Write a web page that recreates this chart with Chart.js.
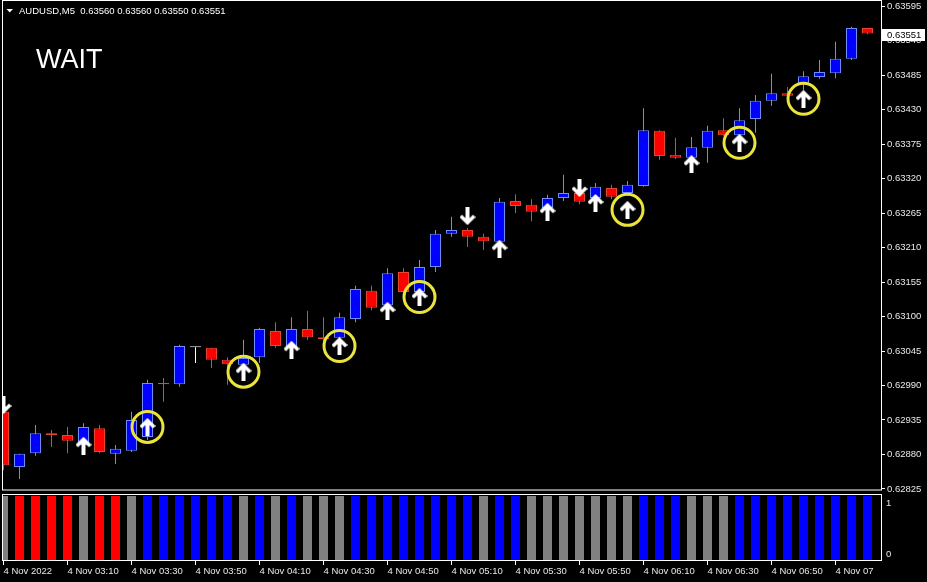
<!DOCTYPE html>
<html>
<head>
<meta charset="utf-8">
<script src="https://cdn.jsdelivr.net/npm/chart.js@4.4.1/dist/chart.umd.min.js"></script>
<style>
html,body{margin:0;padding:0;background:#000;overflow:hidden}
canvas{display:block}
</style>
</head>
<body>
<canvas id="c" width="927" height="582"></canvas>
<script>
// ---------- data ----------
const symbol = 'AUDUSD';
const timeframe = 'M5';
const signalText = 'WAIT';

const times = ['02:50','02:55','03:00','03:05','03:10','03:15','03:20','03:25','03:30','03:35',
  '03:40','03:45','03:50','03:55','04:00','04:05','04:10','04:15','04:20','04:25',
  '04:30','04:35','04:40','04:45','04:50','04:55','05:00','05:05','05:10','05:15',
  '05:20','05:25','05:30','05:35','05:40','05:45','05:50','05:55','06:00','06:05',
  '06:10','06:15','06:20','06:25','06:30','06:35','06:40','06:45','06:50','06:55',
  '07:00','07:05','07:10','07:15','07:20'];

const opens = [0.62948,0.62860,0.62882,0.62914,0.62911,0.62895,0.62922,0.62881,0.62886,0.62908,
  0.62994,0.62992,0.63051,0.63050,0.63031,0.63023,0.63035,0.63077,0.63051,0.63080,
  0.63067,0.63066,0.63096,0.63141,0.63118,0.63171,0.63139,0.63179,0.63232,0.63238,
  0.63227,0.63219,0.63284,0.63278,0.63273,0.63289,0.63297,0.63289,0.63305,0.63297,
  0.63308,0.63396,0.63358,0.63353,0.63369,0.63397,0.63389,0.63415,0.63444,0.63456,
  0.63471,0.63482,0.63488,0.63511,0.63560];
const highs = [0.62954,0.62881,0.62927,0.62919,0.62924,0.62930,0.62927,0.62895,0.62948,0.62999,
  0.63002,0.63055,0.63051,0.63050,0.63035,0.63063,0.63082,0.63091,0.63099,0.63109,
  0.63099,0.63106,0.63149,0.63149,0.63177,0.63177,0.63190,0.63238,0.63259,0.63241,
  0.63232,0.63289,0.63295,0.63287,0.63294,0.63326,0.63302,0.63313,0.63310,0.63316,
  0.63432,0.63397,0.63385,0.63386,0.63404,0.63416,0.63432,0.63453,0.63487,0.63466,
  0.63491,0.63509,0.63538,0.63562,0.63560];
const lows = [0.62855,0.62841,0.62878,0.62892,0.62882,0.62887,0.62882,0.62865,0.62884,0.62903,
  0.62964,0.62988,0.63026,0.63018,0.62991,0.63015,0.63026,0.63050,0.63047,0.63063,
  0.63053,0.63055,0.63091,0.63110,0.63115,0.63138,0.63136,0.63171,0.63227,0.63211,
  0.63206,0.63216,0.63265,0.63252,0.63270,0.63284,0.63279,0.63286,0.63287,0.63292,
  0.63307,0.63350,0.63351,0.63350,0.63345,0.63388,0.63386,0.63393,0.63436,0.63450,
  0.63461,0.63479,0.63480,0.63509,0.63550];
const closes = [0.62863,0.62881,0.62914,0.62911,0.62902,0.62924,0.62884,0.62889,0.62935,0.62994,
  0.62992,0.63053,0.63051,0.63031,0.63024,0.63034,0.63080,0.63053,0.63080,0.63067,
  0.63064,0.63099,0.63144,0.63114,0.63169,0.63139,0.63179,0.63232,0.63238,0.63227,
  0.63220,0.63283,0.63276,0.63267,0.63289,0.63297,0.63283,0.63307,0.63291,0.63310,
  0.63397,0.63356,0.63353,0.63370,0.63396,0.63389,0.63413,0.63444,0.63456,0.63452,
  0.63483,0.63490,0.63511,0.63560,0.63551];

// signal arrows (bar index + price level)
const upSignalBars   = [5, 9, 15, 18, 21, 24, 26, 31, 34, 37, 39, 43, 46, 50];
const upSignalPrices = [0.62894,0.62924,0.63012,0.63047,0.63053,0.63109,0.63131,0.63208,0.63267,0.63281,0.63270,0.63343,0.63377,0.63447];
const downSignalBars   = [0, 29, 36];
const downSignalPrices = [0.62959, 0.63260, 0.63305];
const confirmedBars = [9, 15, 21, 26, 39, 46, 50];

// lower indicator histogram
const histState = ['flat','sell','sell','sell','sell','flat','sell','sell','flat','buy',
  'buy','buy','buy','buy','buy','flat','buy','flat','buy','flat',
  'flat','flat','buy','buy','buy','buy','buy','buy','buy','buy',
  'flat','buy','buy','flat','flat','flat','flat','flat','flat','flat',
  'buy','buy','buy','flat','flat','flat','buy','buy','buy','buy',
  'buy','buy','buy','buy','buy'];
const histValue = [1,1,1,1,1,1,1,1,1,1, 1,1,1,1,1,1,1,1,1,1, 1,1,1,1,1,1,1,1,1,1,
  1,1,1,1,1,1,1,1,1,1, 1,1,1,1,1,1,1,1,1,1, 1,1,1,1,1];
const histLevels = [1, 0];

// axis ticks
const priceTicks = [0.62825,0.62880,0.62935,0.62990,0.63045,0.63100,0.63155,0.63210,
  0.63265,0.63320,0.63375,0.63430,0.63485,0.63540,0.63595];
const xTickBars = [0,4,8,12,16,20,24,28,32,36,40,44,48,52];
const xTickLabels = ['4 Nov 2022','4 Nov 03:10','4 Nov 03:30','4 Nov 03:50','4 Nov 04:10',
  '4 Nov 04:30','4 Nov 04:50','4 Nov 05:10','4 Nov 05:30','4 Nov 05:50','4 Nov 06:10',
  '4 Nov 06:30','4 Nov 06:50','4 Nov 07'];

// ---------- styling ----------
const FONT = 'Liberation Sans';
const TXT = '#e8e8e8';
const UP_FILL = '#0000ff', UP_LINE = '#6f8cff';
const DN_FILL = '#ff0000', DN_LINE = '#e8452e';
const DOJI = '#ffffff';
const histColors = {flat:'#808080', sell:'#ff0000', buy:'#0000ff'};

function dir(i){ return closes[i] > opens[i] ? 1 : (closes[i] < opens[i] ? -1 : 0); }
const fills = opens.map((o,i)=> dir(i)>0 ? UP_FILL : dir(i)<0 ? DN_FILL : DOJI);
const lines = opens.map((o,i)=> dir(i)>0 ? UP_LINE : dir(i)<0 ? DN_LINE : DOJI);

function makeArrow(up){
  const c = document.createElement('canvas');
  c.width = 16; c.height = 18;
  const g = c.getContext('2d');
  g.fillStyle = '#ffffff';
  const pts = [[8,0],[16,8],[13.5,10.5],[10,7],[10,18],[6,18],[6,7],[2.5,10.5],[0,8]];
  g.beginPath();
  pts.forEach(([x,y],i)=>{ const yy = up ? y : 18 - y; if(i) g.lineTo(x,yy); else g.moveTo(x,yy); });
  g.closePath(); g.fill();
  return c;
}
const upArrow = makeArrow(true), downArrow = makeArrow(false);

function noPad(s){ s.paddingTop = 0; s.paddingBottom = 0; s.paddingLeft = 0; s.paddingRight = 0; }

const mt4Plugin = {
  id: 'mt4',
  beforeDraw(chart){
    const ctx = chart.ctx;
    ctx.save(); ctx.fillStyle = '#000'; ctx.fillRect(0,0,chart.width,chart.height); ctx.restore();
  },
  afterDraw(chart){
    const ctx = chart.ctx;
    const ca = chart.chartArea;
    const yS = chart.scales.y, yI = chart.scales.yInd;
    ctx.save();
    // frames
    ctx.strokeStyle = '#ffffff'; ctx.lineWidth = 1;
    ctx.strokeRect(ca.left + 0.5, yS.top - 0.5, ca.right - ca.left, yS.bottom - yS.top);
    ctx.strokeRect(ca.left + 0.5, yI.top + 4, ca.right - ca.left, yI.bottom - yI.top - 4.5);
    // header
    ctx.fillStyle = '#ffffff';
    ctx.beginPath(); ctx.moveTo(6.5,9); ctx.lineTo(13,9); ctx.lineTo(9.75,12.5); ctx.closePath(); ctx.fill();
    const n = closes.length - 1;
    ctx.font = '9.5px "' + FONT + '"';
    ctx.textBaseline = 'middle'; ctx.textAlign = 'left';
    ctx.fillText(symbol + ',' + timeframe + '  ' + opens[n].toFixed(5) + ' ' + highs[n].toFixed(5) + ' ' +
      lows[n].toFixed(5) + ' ' + closes[n].toFixed(5), 19, 11);
    // signal text
    ctx.font = '27px "' + FONT + '"';
    ctx.textBaseline = 'alphabetic';
    ctx.fillText(signalText, 36, 68);
    // indicator level labels
    ctx.font = '9.5px "' + FONT + '"';
    ctx.fillStyle = TXT; ctx.textBaseline = 'middle';
    ctx.fillText(String(histLevels[0]), ca.right + 5, yI.getPixelForValue(histLevels[0]) + 7);
    ctx.fillText(String(histLevels[1]), ca.right + 5, yI.getPixelForValue(histLevels[1]) - 7);
    // current price label
    const py = Math.round(yS.getPixelForValue(closes[n])) + 1;
    ctx.fillStyle = '#ffffff';
    ctx.fillRect(ca.right + 1, py - 6, 43, 12);
    ctx.fillStyle = '#000000';
    ctx.fillText(closes[n].toFixed(5), ca.right + 6, py + 0.5);
    ctx.restore();
  }
};

const tickFont = {family: FONT, size: 9.5};

new Chart(document.getElementById('c'), {
  type: 'bar',
  data: {
    datasets: [
      {
        type: 'scatter', label: 'confirmed', order: 0,
        data: confirmedBars.map(b => ({x: b, y: upSignalPrices[upSignalBars.indexOf(b)]})),
        pointStyle: 'circle', pointRadius: 15.5, pointBorderWidth: 3,
        pointBorderColor: '#ebe43a', pointBackgroundColor: 'rgba(0,0,0,0)',
        xAxisID: 'x', yAxisID: 'y'
      },
      {
        type: 'scatter', label: 'buy', order: 1,
        data: upSignalBars.map((b,i) => ({x: b, y: upSignalPrices[i]})),
        pointStyle: upArrow, pointRadius: 9, xAxisID: 'x', yAxisID: 'y'
      },
      {
        type: 'scatter', label: 'sell', order: 1,
        data: downSignalBars.map((b,i) => ({x: b, y: downSignalPrices[i]})),
        pointStyle: downArrow, pointRadius: 9, xAxisID: 'x', yAxisID: 'y'
      },
      {
        type: 'bar', label: 'body', order: 3, grouped: false,
        data: opens.map((o,i) => ({x: i, y: [o, closes[i]]})),
        backgroundColor: fills, borderColor: lines, borderWidth: 1,
        borderSkipped: false, barThickness: 11, minBarLength: 1, inflateAmount: 0,
        xAxisID: 'x', yAxisID: 'y'
      },
      {
        type: 'bar', label: 'wick', order: 4, grouped: false,
        data: opens.map((o,i) => ({x: i, y: [lows[i], highs[i]]})),
        backgroundColor: lines, borderWidth: 0, barThickness: 1, inflateAmount: 0,
        xAxisID: 'x', yAxisID: 'y'
      },
      {
        type: 'bar', label: 'trend', order: 5, grouped: false,
        data: histValue.map((v,i) => ({x: i, y: v})),
        backgroundColor: histState.map(s => histColors[s]), borderWidth: 0,
        barThickness: 9, inflateAmount: 0,
        xAxisID: 'x', yAxisID: 'yInd'
      }
    ]
  },
  options: {
    responsive: false,
    animation: false,
    events: [],
    layout: {autoPadding: false, padding: {left: 2, top: 1, right: 0, bottom: 0}},
    plugins: {legend: {display: false}, tooltip: {enabled: false}},
    scales: {
      x: {
        type: 'linear', position: 'bottom', min: -0.09375, max: 54.84375, offset: false,
        afterBuildTicks: s => { s.ticks = xTickBars.map(v => ({value: v})); },
        afterFit: s => { s.height = 21; noPad(s); },
        ticks: {autoSkip: false, maxRotation: 0, minRotation: 0, align: 'start', padding: 1,
          color: TXT, font: tickFont, callback: (v, i) => xTickLabels[i]},
        grid: {display: true, offset: false, drawOnChartArea: false, drawTicks: true, tickLength: 4, color: '#ffffff'},
        border: {display: false}
      },
      y: {
        type: 'linear', position: 'right', stack: 'pane', stackWeight: 489.5, weight: 0,
        min: 0.628226, max: 0.636030,
        afterBuildTicks: s => { s.ticks = priceTicks.map(v => ({value: v})); },
        afterFit: s => { s.width = 46; noPad(s); },
        ticks: {padding: 2, color: TXT, font: tickFont, callback: v => Number(v).toFixed(5)},
        grid: {display: true, drawOnChartArea: false, drawTicks: true, tickLength: 4, color: '#ffffff'},
        border: {display: false}
      },
      yInd: {
        type: 'linear', position: 'right', stack: 'pane', stackWeight: 70.5, weight: 1,
        min: 0, max: 1.085,
        afterFit: s => { s.width = 46; noPad(s); },
        ticks: {display: false},
        grid: {display: false},
        border: {display: false}
      }
    }
  },
  plugins: [mt4Plugin]
});
</script>
</body>
</html>
